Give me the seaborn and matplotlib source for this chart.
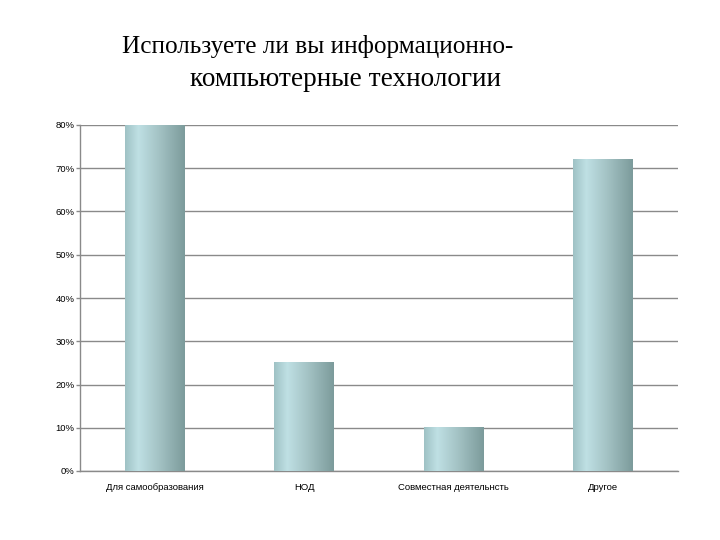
import numpy as np
import pandas as pd
import seaborn as sns
import matplotlib.pyplot as plt
from matplotlib.colors import LinearSegmentedColormap

# данные
categories = ["Для самообразования", "НОД", "Совместная деятельнсть", "Другое"]
values = [0.80, 0.25, 0.10, 0.72]
title_line1 = "Используете ли вы информационно-"
title_line2 = "компьютерные технологии"

df = pd.DataFrame({"cat": categories, "val": values})

sns.set_style("white")
plt.rcParams["font.family"] = ["Liberation Sans", "DejaVu Sans"]

fig = plt.figure(figsize=(7.2, 5.4), dpi=100)
ax = fig.add_axes([80 / 720, 1 - 471 / 540, 598 / 720, 346 / 540])

sns.barplot(data=df, x="cat", y="val", color="#a8c8cb", width=0.4, ax=ax, zorder=3)

# цилиндрический градиент на столбцах
grad_cmap = LinearSegmentedColormap.from_list(
    "cyl", [(0, "#9fc2c5"), (0.22, "#bfe0e4"), (0.55, "#a5c4c6"), (1, "#7c9b9b")]
)
grad = np.linspace(0, 1, 200).reshape(1, -1)
for p in ax.patches:
    x0, w, h = p.get_x(), p.get_width(), p.get_height()
    ax.imshow(grad, cmap=grad_cmap, aspect="auto", extent=[x0, x0 + w, 0, h],
              zorder=4, interpolation="bicubic")
    p.set_visible(False)

ax.set_xlim(-0.5, len(categories) - 0.5)
ax.set_ylim(0, 0.8)
ax.set_yticks(np.arange(0, 0.81, 0.1))
ax.set_yticklabels([f"{int(round(t * 100))}%" for t in np.arange(0, 0.81, 0.1)], fontsize=6.8)
ax.yaxis.grid(True, color="#8a8a8a", linewidth=1, zorder=0)
ax.set_axisbelow(True)

ax.set_xticks(range(len(categories)))
ax.set_xticklabels(categories, fontsize=6.8)
ax.set_xticks(np.arange(-0.5, len(categories), 1), minor=True)
ax.tick_params(axis="x", which="major", length=0, pad=9, labelcolor="black")
ax.tick_params(axis="x", which="minor", length=4, color="#8a8a8a", width=1, direction="out")
ax.tick_params(axis="y", length=3, color="#8a8a8a", width=1, direction="out", pad=1,
               left=True, labelcolor="black")
ax.set_xlabel("")
ax.set_ylabel("")

for s in ["top", "right"]:
    ax.spines[s].set_visible(False)
for s in ["left", "bottom"]:
    ax.spines[s].set_color("#8a8a8a")
    ax.spines[s].set_linewidth(1)

fig.text(318 / 720, 1 - 47 / 540, title_line1, ha="center", va="center",
         fontsize=18.2, color="black", family=["Liberation Serif", "DejaVu Serif"])
fig.text(345 / 720, 1 - 80 / 540, title_line2, ha="center", va="center",
         fontsize=19.6, color="black", family=["Liberation Serif", "DejaVu Serif"])

fig.savefig("out.png", dpi=100)
